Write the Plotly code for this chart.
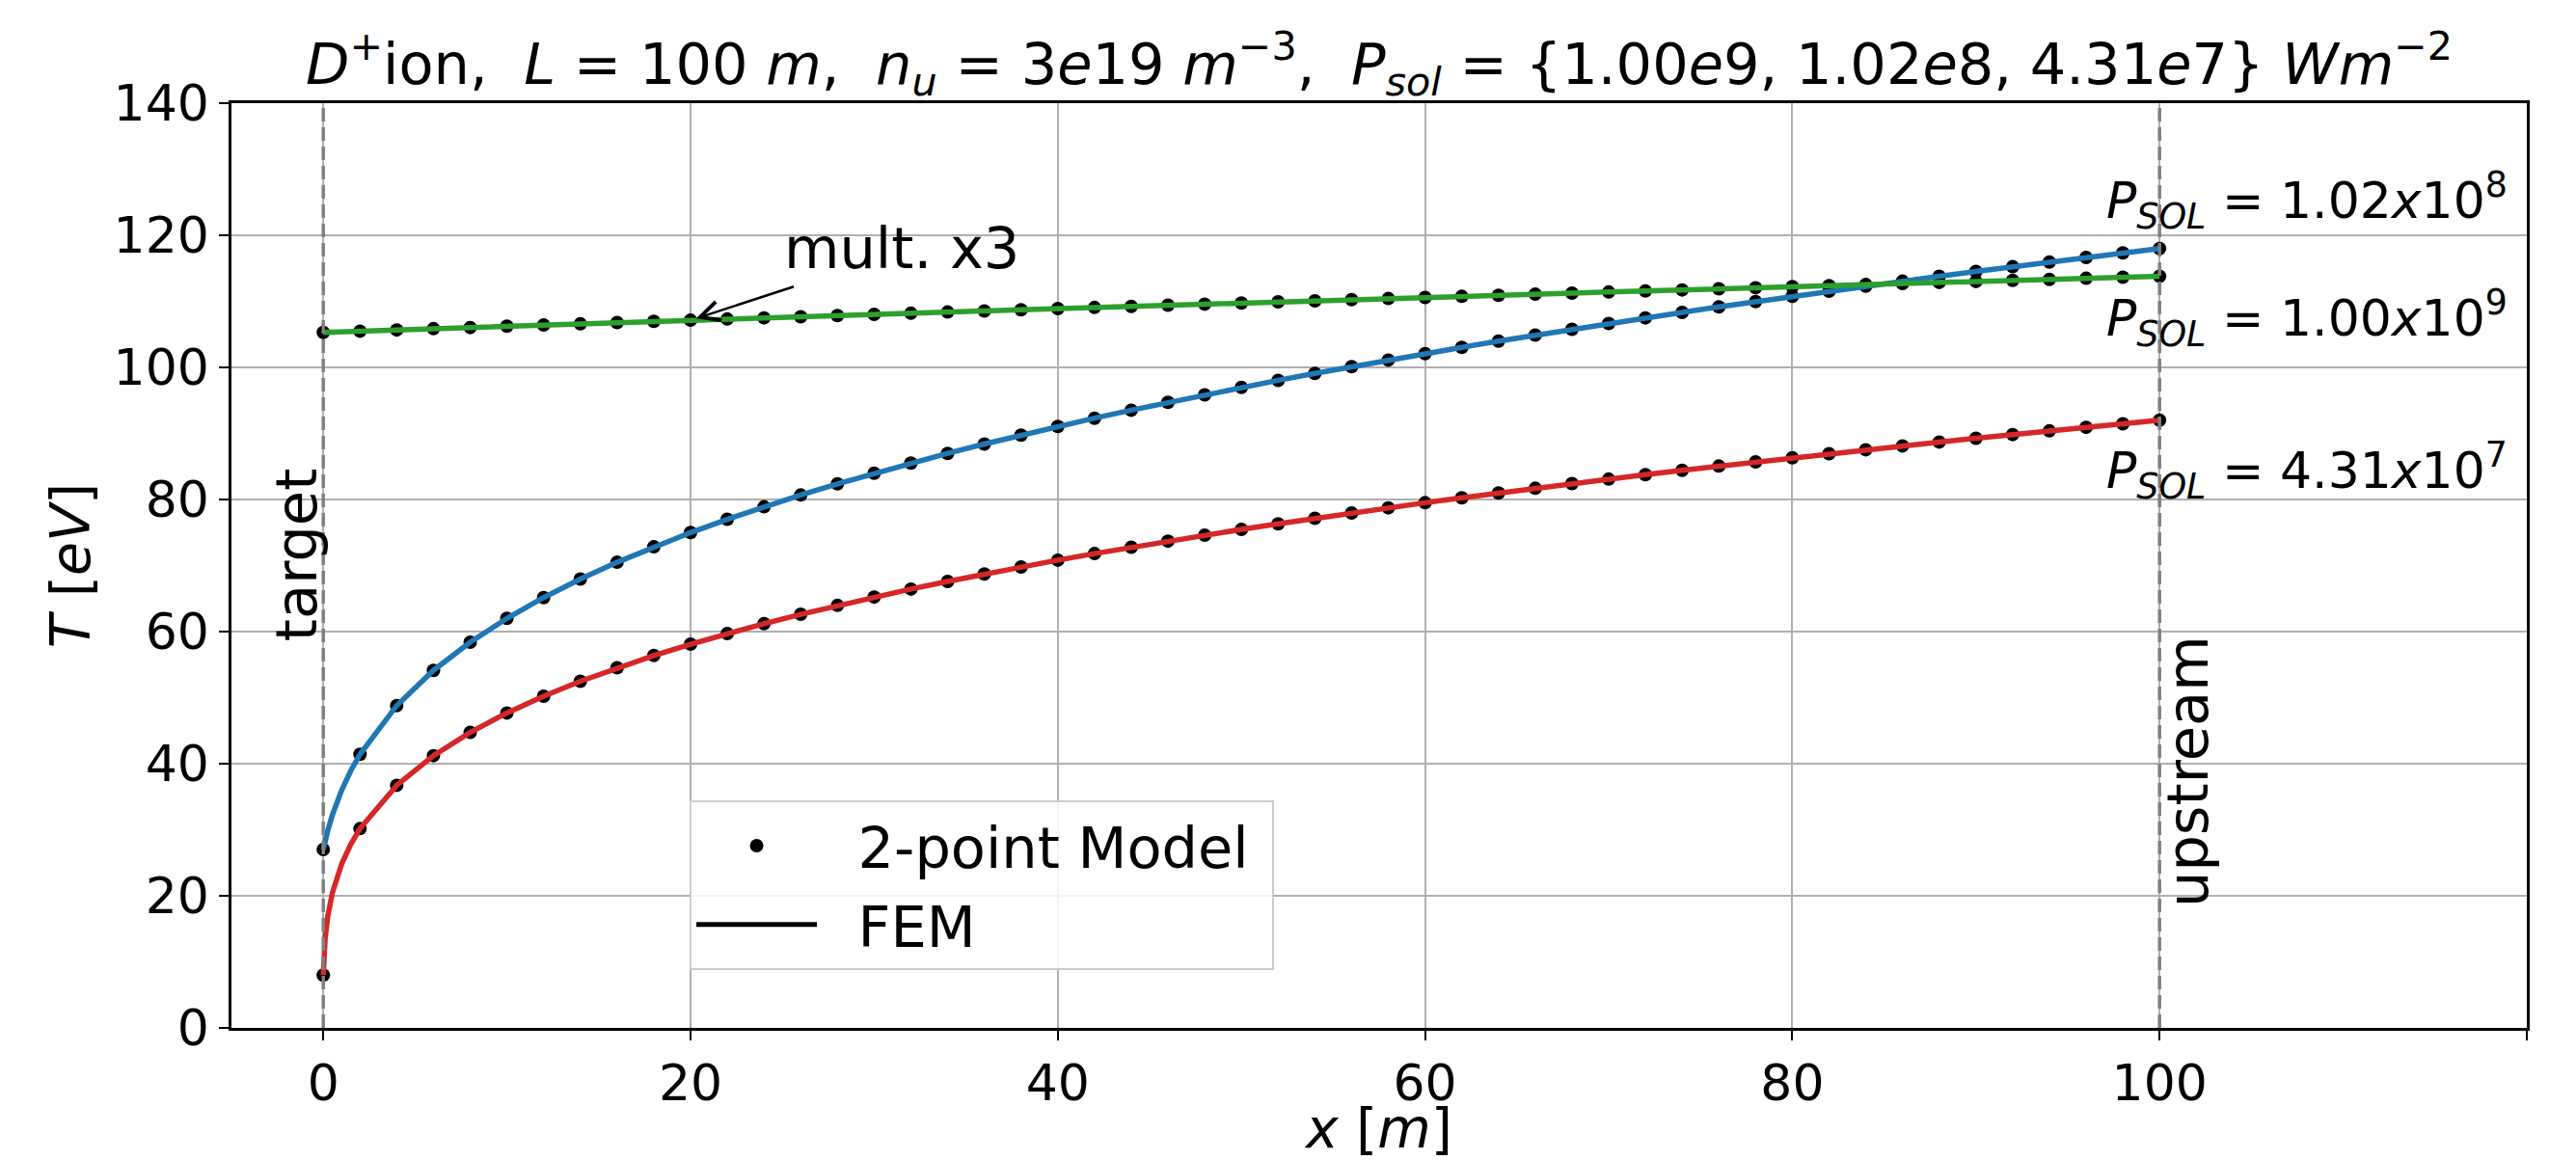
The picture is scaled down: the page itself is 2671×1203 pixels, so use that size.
import plotly.graph_objects as go

# ---------------- data ----------------
x_2pt = [0, 2, 4, 6, 8, 10, 12, 14, 16, 18, 20, 22, 24, 26, 28, 30, 32, 34, 36, 38,
         40, 42, 44, 46, 48, 50, 52, 54, 56, 58, 60, 62, 64, 66, 68, 70, 72, 74, 76, 78,
         80, 82, 84, 86, 88, 90, 92, 94, 96, 98, 100]

T_blue = [27.0, 41.42, 48.80, 54.13, 58.40, 62.00, 65.15, 67.95, 70.50, 72.83, 74.99,
          77.00, 78.89, 80.68, 82.37, 83.97, 85.51, 86.98, 88.39, 89.74, 91.05, 92.31,
          93.52, 94.70, 95.85, 96.96, 98.04, 99.09, 100.11, 101.11, 102.09, 103.04,
          103.97, 104.88, 105.77, 106.64, 107.50, 108.33, 109.16, 109.96, 110.76,
          111.54, 112.30, 113.05, 113.79, 114.52, 115.24, 115.94, 116.64, 117.33, 118.0]

T_red = [8.0, 30.17, 36.73, 41.22, 44.74, 47.68, 50.22, 52.48, 54.52, 56.38, 58.10,
         59.70, 61.20, 62.62, 63.96, 65.23, 66.44, 67.60, 68.72, 69.79, 70.82, 71.81,
         72.77, 73.70, 74.60, 75.47, 76.32, 77.15, 77.96, 78.74, 79.51, 80.26, 80.99,
         81.70, 82.40, 83.09, 83.76, 84.42, 85.06, 85.70, 86.32, 86.93, 87.53, 88.12,
         88.70, 89.27, 89.83, 90.39, 90.93, 91.47, 92.0]

T_green = [105.30, 105.49, 105.67, 105.86, 106.04, 106.23, 106.41, 106.59, 106.78,
           106.96, 107.14, 107.32, 107.50, 107.67, 107.85, 108.03, 108.20, 108.38,
           108.55, 108.72, 108.90, 109.07, 109.24, 109.41, 109.58, 109.75, 109.92,
           110.08, 110.25, 110.42, 110.59, 110.75, 110.92, 111.08, 111.24, 111.41,
           111.57, 111.73, 111.90, 112.06, 112.22, 112.38, 112.54, 112.70, 112.86,
           113.01, 113.17, 113.33, 113.49, 113.64, 113.80]

# FEM curve resolves the steep region near the target more finely
x_fem_near = [0.05, 0.1, 0.25, 0.5, 1.0, 1.5]
T_blue_fem_near = [27.65, 28.26, 29.93, 32.27, 35.99, 38.94]
T_red_fem_near = [11.52, 13.45, 16.97, 20.47, 24.81, 27.81]

x_target = 0
x_upstream = 100

x_tickvals = [0, 20, 40, 60, 80, 100, 120]
x_ticktext = ["0", "20", "40", "60", "80", "100", ""]
y_tickvals = [0, 20, 40, 60, 80, 100, 120, 140]

C_BLUE = "#1f77b4"
C_RED = "#d62728"
C_GREEN = "#2ca02c"
FONT = "DejaVu Sans"
TXT = 59

x_fem = [x_2pt[0]] + x_fem_near + x_2pt[1:]
T_blue_fem = [T_blue[0]] + T_blue_fem_near + T_blue[1:]
T_red_fem = [T_red[0]] + T_red_fem_near + T_red[1:]

fig = go.Figure()

# 2-point model dots (under the lines)
for ys in (T_blue, T_red, T_green):
    fig.add_trace(go.Scatter(x=x_2pt, y=ys, mode="markers",
                             marker=dict(color="black", size=14),
                             showlegend=False, hoverinfo="skip"))

# FEM lines
fig.add_trace(go.Scatter(x=x_fem, y=T_blue_fem, mode="lines",
                         line=dict(color=C_BLUE, width=5.5), showlegend=False))
fig.add_trace(go.Scatter(x=x_fem, y=T_red_fem, mode="lines",
                         line=dict(color=C_RED, width=5.5), showlegend=False))
fig.add_trace(go.Scatter(x=x_2pt, y=T_green, mode="lines",
                         line=dict(color=C_GREEN, width=5.5), showlegend=False))

# legend entries
fig.add_trace(go.Scatter(x=[None], y=[None], mode="markers",
                         name="&nbsp;&nbsp;2-point Model&nbsp;",
                         marker=dict(color="black", size=14), legendgroup="a"))
fig.add_trace(go.Scatter(x=[None], y=[None], mode="lines", name="&nbsp;&nbsp;FEM",
                         line=dict(color="black", width=5), legendgroup="b"))

# target / upstream dashed lines
for xv in (x_target, x_upstream):
    fig.add_shape(type="line", xref="x", yref="paper", x0=xv, x1=xv, y0=0, y1=1,
                  line=dict(color="#808080", width=3.5, dash="14px,6px"), layer="above")

axis_common = dict(showgrid=True, gridcolor="#b0b0b0", gridwidth=2,
                   showline=True, linecolor="black", linewidth=2.5, mirror=True,
                   ticks="outside", ticklen=10, tickwidth=2, tickcolor="black",
                   tickfont=dict(size=52, color="black", family=FONT),
                   zeroline=False, automargin=False)

fig.update_layout(
    width=2671, height=1203, autosize=False,
    margin=dict(l=240, r=51, t=107, b=137),
    plot_bgcolor="white", paper_bgcolor="white",
    font=dict(family=FONT, color="black"),
    title=dict(
        text=("<i>D</i><sup>+</sup>ion,  <i>L</i> = 100 <i>m</i>,  "
              "<i>n<sub>u</sub></i> = 3<i>e</i>19 <i>m</i><sup>−3</sup>,  "
              "<i>P<sub>sol</sub></i> = {1.00<i>e</i>9, 1.02<i>e</i>8, 4.31<i>e</i>7} "
              "<i>Wm</i><sup>−2</sup>"),
        x=0.5, xref="paper", xanchor="center",
        y=1 - 66 / 1203, yref="container", yanchor="middle", automargin=False,
        font=dict(size=59, family=FONT, color="black")),
    xaxis=dict(range=[-5, 120], tickvals=x_tickvals, ticktext=x_ticktext,
               title=dict(text="<i>x</i> [<i>m</i>]", font=dict(size=57), standoff=0),
               **axis_common),
    yaxis=dict(range=[0, 140], tickvals=y_tickvals,
               title=dict(text="<i>T</i> [<i>eV</i>]", font=dict(size=57), standoff=6),
               **axis_common),
    legend=dict(x=0.1996, y=0.246, xanchor="left", yanchor="top",
                bgcolor="rgba(255,255,255,0.85)", bordercolor="#cccccc", borderwidth=2,
                font=dict(size=TXT, family=FONT, color="black"),
                itemwidth=125, tracegroupgap=2),
    showlegend=True,
)

# P_SOL labels
psol_labels = [("1.02", "8", 125.3), ("1.00", "9", 107.4), ("4.31", "7", 84.4)]
for mant, ex, yv in psol_labels:
    fig.add_annotation(x=97, y=yv, xref="x", yref="y", xanchor="left", yanchor="middle",
                       text=f"<i>P</i><sub><i>SOL</i></sub> = {mant}<i>x</i>10<sup>{ex}</sup>",
                       showarrow=False, font=dict(size=52, family=FONT, color="black"))

fig.add_annotation(x=-1.45, y=71.6, xref="x", yref="y", text="target", textangle=-90,
                   showarrow=False, font=dict(size=TXT, family=FONT, color="black"))
fig.add_annotation(x=101.5, y=38.8, xref="x", yref="y", text="upstream", textangle=-90,
                   showarrow=False, font=dict(size=TXT, family=FONT, color="black"))

fig.add_annotation(x=25.0, y=118.0, xref="x", yref="y", xanchor="left", yanchor="middle",
                   text="mult. x3", showarrow=False,
                   font=dict(size=TXT, family=FONT, color="black"))
fig.add_annotation(x=20.3, y=107.4, xref="x", yref="y", ax=25.7, ay=112.3,
                   axref="x", ayref="y", text="", showarrow=True,
                   arrowhead=5, arrowsize=1.6, arrowwidth=2.5, arrowcolor="black")

fig.write_html("out.html",
               config={"displayModeBar": False},
               post_script="document.body.style.margin='0';"
                           "document.body.style.overflow='hidden';")
